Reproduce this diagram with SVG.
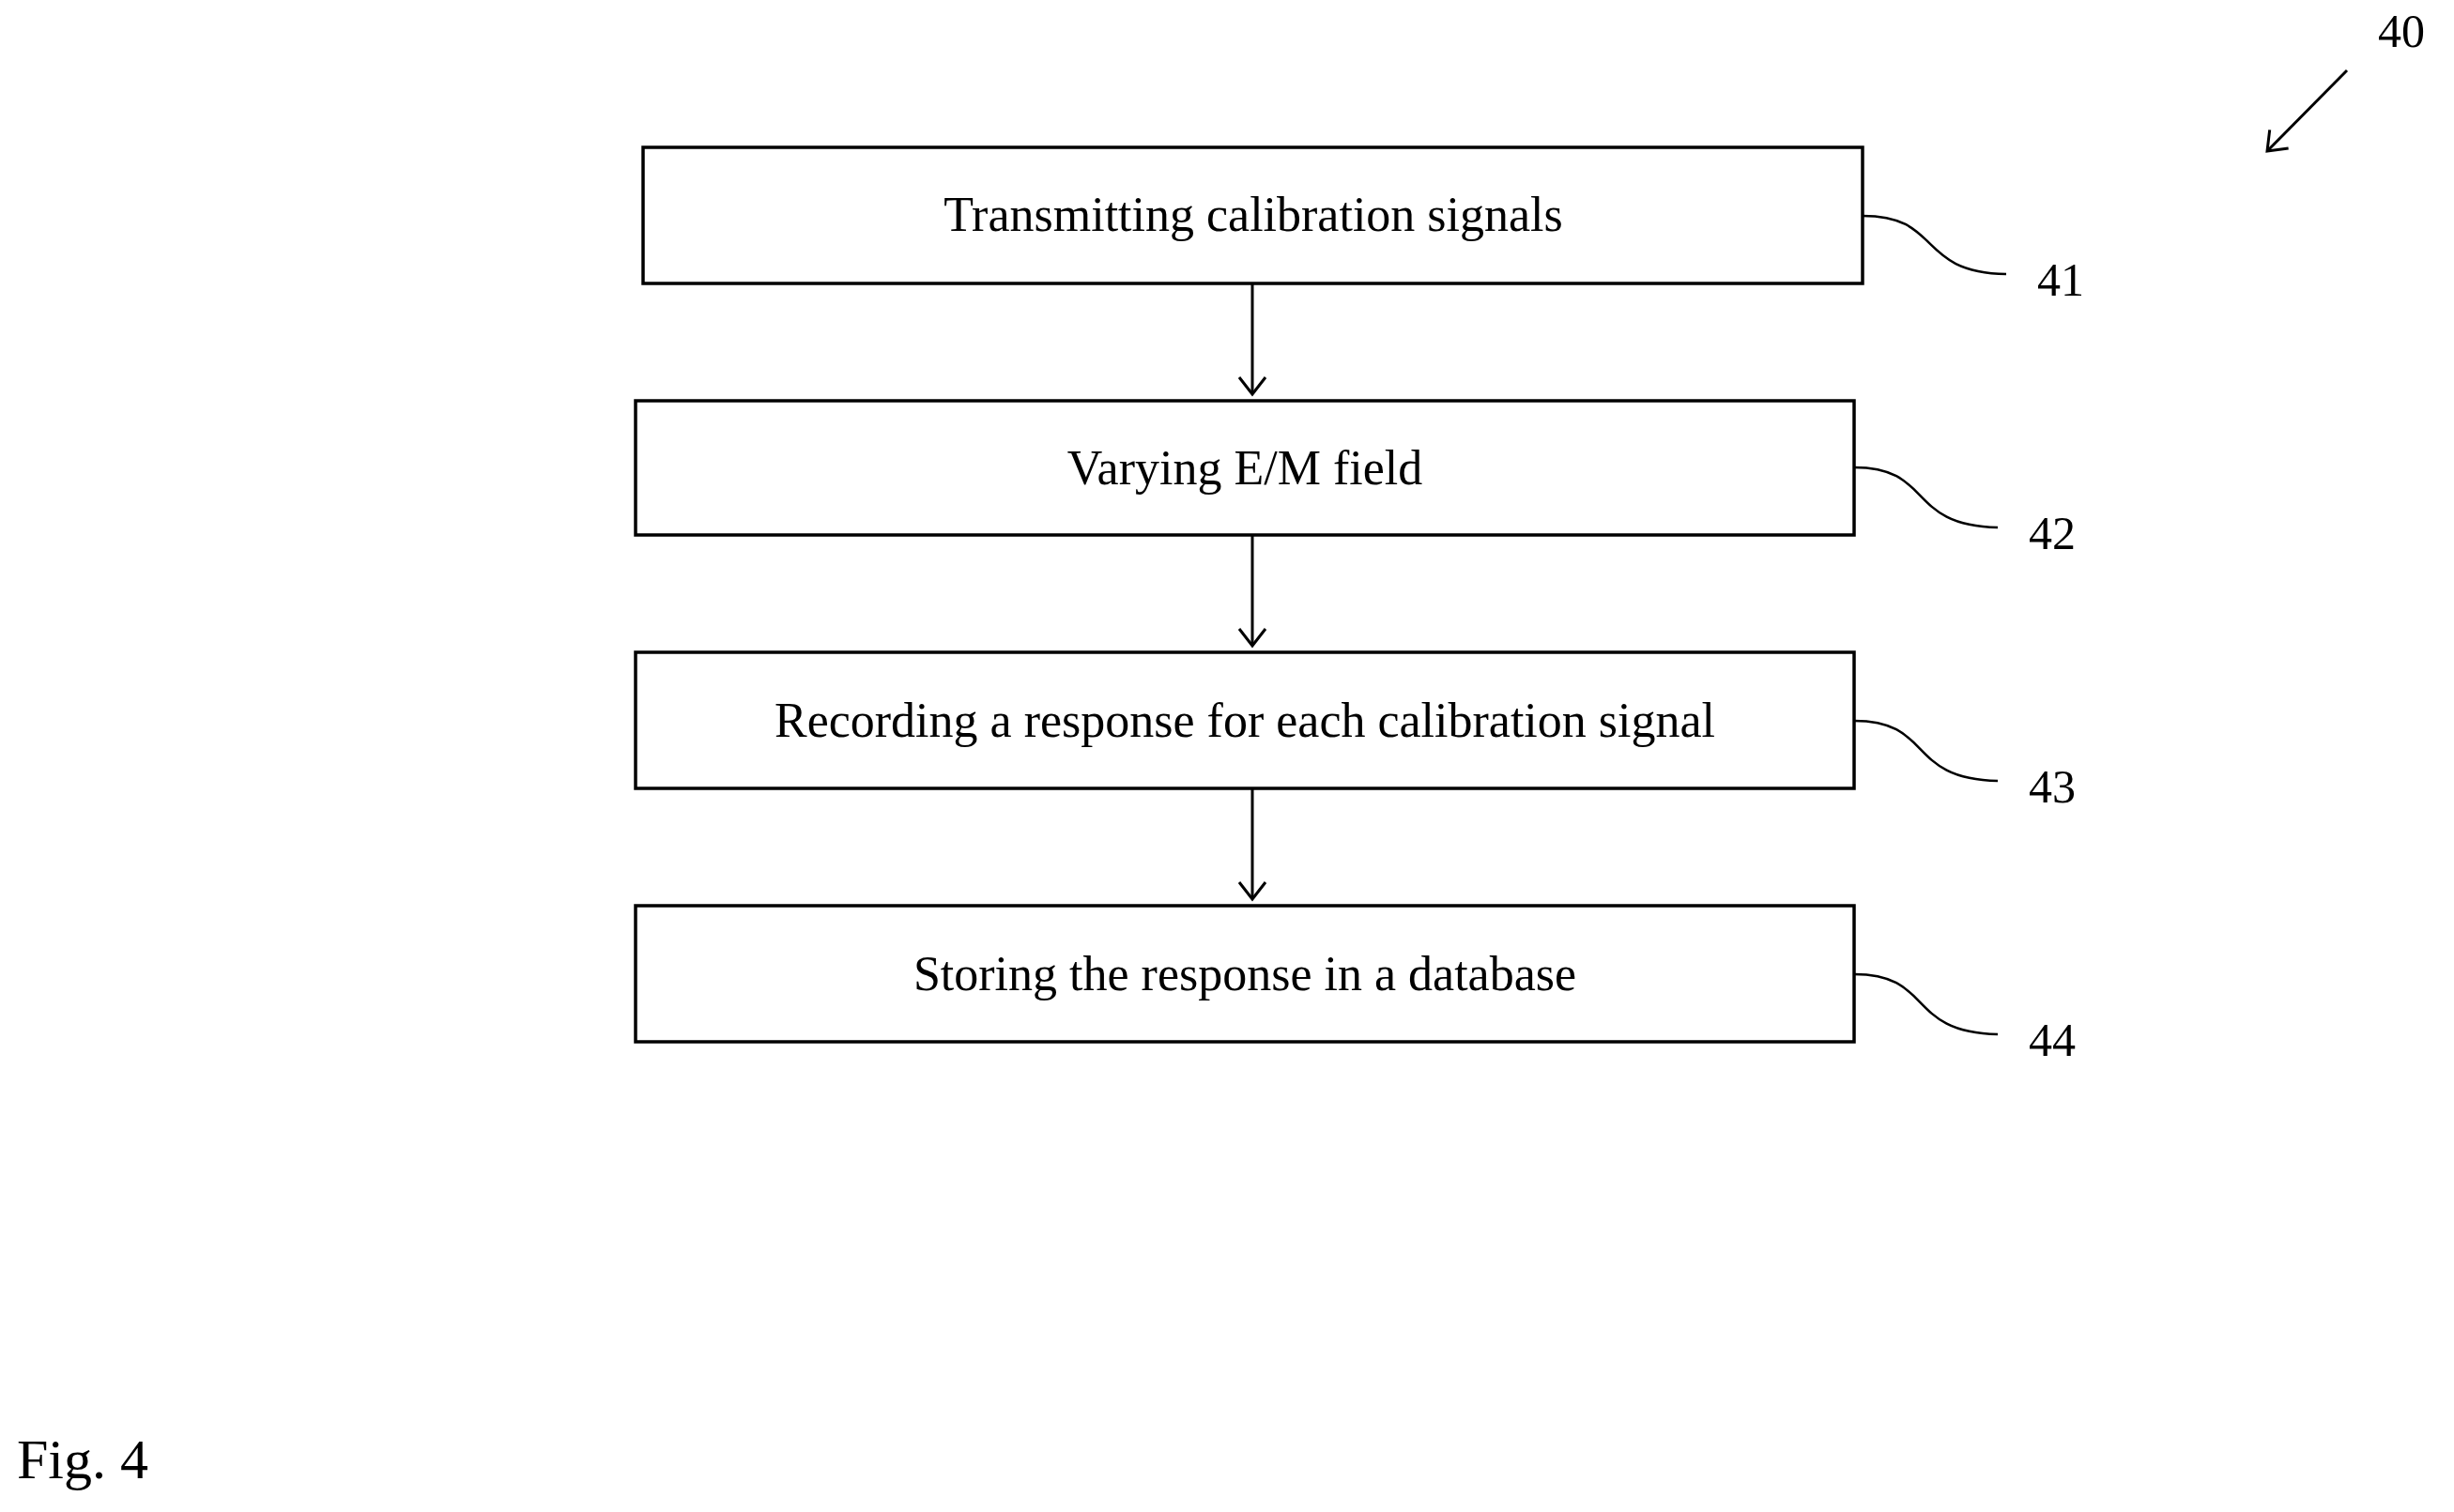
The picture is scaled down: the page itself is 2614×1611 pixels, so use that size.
<svg xmlns="http://www.w3.org/2000/svg" width="2614" height="1611" viewBox="0 0 2614 1611">
<defs><marker id="ah" markerWidth="40" markerHeight="40" refX="20" refY="20" orient="auto" markerUnits="userSpaceOnUse"><path d="M2,6 L20,20 L2,34" fill="none" stroke="#000" stroke-width="3"/></marker></defs>
<style>
.b{fill:#fff;stroke:#000;stroke-width:3.5}
.t{font-family:"Liberation Serif",serif;font-size:52px;text-anchor:middle;fill:#000}
.n{font-family:"Liberation Serif",serif;font-size:50px;fill:#000}
.l{fill:none;stroke:#000;stroke-width:2.5}
.c{fill:none;stroke:#000;stroke-width:3}
</style>
<rect width="2614" height="1611" fill="#fff"/>
<g id="n41"><rect class="b" x="685" y="157" width="1299" height="145"/><text class="t" x="1335" y="246">Transmitting calibration signals</text><path class="l" d="M1984,230 C2070,230 2040,290 2137,292"/><text class="n" x="2170" y="315">41</text></g>
<g id="n42"><rect class="b" x="677" y="427" width="1298" height="143"/><text class="t" x="1326" y="516">Varying E/M field</text><path class="l" d="M1975,498 C2060,498 2030,560 2128,562"/><text class="n" x="2161" y="585">42</text></g>
<g id="n43"><rect class="b" x="677" y="695" width="1298" height="145"/><text class="t" x="1326" y="785">Recording a response for each calibration signal</text><path class="l" d="M1975,768 C2060,768 2030,830 2128,832"/><text class="n" x="2161" y="855">43</text></g>
<g id="n44"><rect class="b" x="677" y="965" width="1298" height="145"/><text class="t" x="1326" y="1055">Storing the response in a database</text><path class="l" d="M1975,1038 C2060,1038 2030,1100 2128,1102"/><text class="n" x="2161" y="1125">44</text></g>
<g id="connectors">
<line class="c" x1="1334" y1="302" x2="1334" y2="420" marker-end="url(#ah)"/>
<line class="c" x1="1334" y1="570" x2="1334" y2="688" marker-end="url(#ah)"/>
<line class="c" x1="1334" y1="840" x2="1334" y2="958" marker-end="url(#ah)"/>
<line class="c" x1="2500" y1="75" x2="2415" y2="161" marker-end="url(#ah)"/>
</g>
<text class="n" x="2533" y="50">40</text>
<text class="n" x="18" y="1575" style="font-size:60px">Fig. 4</text>
</svg>
